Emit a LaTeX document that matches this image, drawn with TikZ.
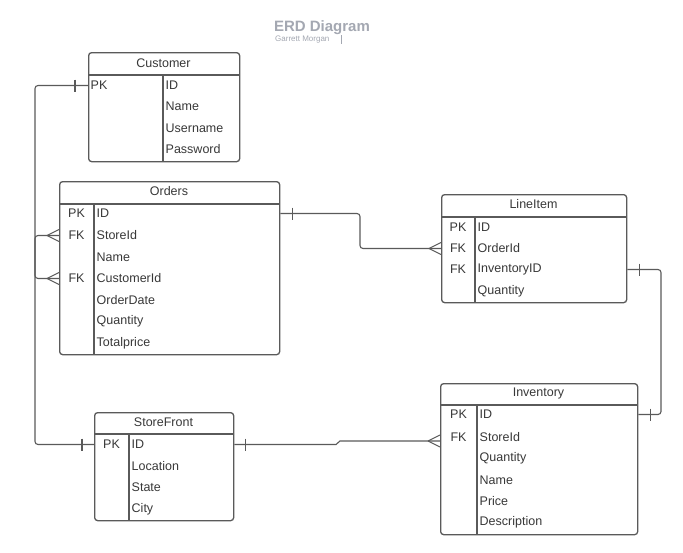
\documentclass[tikz,border=0pt]{standalone}
\usepackage{fontspec}
\setmainfont{Liberation Sans}
\usetikzlibrary{calc}
\definecolor{lc}{HTML}{5A5A5A}
\definecolor{tc}{HTML}{383838}
\definecolor{ttl}{HTML}{A4A8B2}
\tikzset{
  box/.style={draw=lc, line width=1.3pt, rounded corners=3pt, inner sep=0pt, anchor=north west},
  sep/.style={draw=lc, line width=1.3pt},
  conn/.style={draw=lc, line width=1.1pt, rounded corners=3pt},
  hdr/.style={font=\fontsize{12.5}{14}\selectfont, text=tc, inner sep=0pt},
  fld/.style={font=\fontsize{12.5}{14}\selectfont, text=tc, inner sep=0pt, anchor=west},
  key/.style={font=\fontsize{12.5}{14}\selectfont, text=tc, inner sep=0pt},
  crowfoot/.pic={\draw[draw=lc, line width=1.1pt] (-12,0) -- (0,-6) (-12,0) -- (0,6);},
  onebar/.pic={\draw[draw=lc, line width=1.1pt] (0,-6) -- (0,6);}
}
\begin{document}
\begin{tikzpicture}[x=1pt,y=-1pt]
\useasboundingbox[fill=white] (0,0) rectangle (683,552);
% title
\node[font=\bfseries\fontsize{15}{17}\selectfont, text=ttl, inner sep=0pt] (title) at (322,27.5) {ERD Diagram};
\node[font=\fontsize{8}{9}\selectfont, text=ttl, inner sep=0pt, anchor=west] (author) at (275,39.5) {Garrett Morgan};
\draw[ttl, line width=0.5pt] (341,35) -- (341,44);

% Customer
\node[box, minimum width=151pt, minimum height=109pt] (cust) at (88,52) {};
\draw[sep] (88,75) -- (239,75);
\draw[sep] (163,75) -- (163,161);
\node[hdr] (custT) at (163.5,63) {Customer};
\node[fld] (custPK) at (90.5,85.5) {PK};
\node[fld] (custID) at (165.5,85.5) {ID};
\node[fld] (custName) at (165.5,106.5) {Name};
\node[fld] (custUser) at (165.5,128.5) {Username};
\node[fld] (custPass) at (165.5,149.5) {Password};

% Orders
\node[box, minimum width=220pt, minimum height=173pt] (ord) at (59,181) {};
\draw[sep] (59,204) -- (279,204);
\draw[sep] (94,204) -- (94,354);
\node[hdr] (ordT) at (169,191.5) {Orders};
\node[key] (ordPK) at (76.5,213.5) {PK};
\node[key] (ordFK1) at (76.5,235.5) {FK};
\node[key] (ordFK2) at (76.5,278.5) {FK};
\node[fld] (ordID) at (96.5,213.5) {ID};
\node[fld] (ordStore) at (96.5,235.5) {StoreId};
\node[fld] (ordName) at (96.5,257.5) {Name};
\node[fld] (ordCust) at (96.5,278.5) {CustomerId};
\node[fld] (ordDate) at (96.5,300.5) {OrderDate};
\node[fld] (ordQty) at (96.5,321.5) {Quantity};
\node[fld] (ordTot) at (96.5,343.5) {Totalprice};

% LineItem
\node[box, minimum width=185pt, minimum height=108pt] (li) at (441,194) {};
\draw[sep] (441,217) -- (626,217);
\draw[sep] (475,217) -- (475,302);
\node[hdr] (liT) at (533.5,204.5) {LineItem};
\node[key] (liPK) at (458,227.5) {PK};
\node[key] (liFK1) at (458,248.5) {FK};
\node[key] (liFK2) at (458,269.5) {FK};
\node[fld] (liID) at (477.5,227.5) {ID};
\node[fld] (liOrd) at (477.5,248.5) {OrderId};
\node[fld] (liInv) at (477.5,269.5) {InventoryID};
\node[fld] (liQty) at (477.5,291.5) {Quantity};

% Inventory
\node[box, minimum width=197pt, minimum height=151pt] (inv) at (440,383) {};
\draw[sep] (440,405) -- (637,405);
\draw[sep] (477,405) -- (477,534);
\node[hdr] (invT) at (538.5,393.5) {Inventory};
\node[key] (invPK) at (458.5,414.5) {PK};
\node[key] (invFK) at (458.5,437.5) {FK};
\node[fld] (invID) at (479.5,414.5) {ID};
\node[fld] (invStore) at (479.5,437.5) {StoreId};
\node[fld] (invQty) at (479.5,458.5) {Quantity};
\node[fld] (invName) at (479.5,480.5) {Name};
\node[fld] (invPrice) at (479.5,501.5) {Price};
\node[fld] (invDesc) at (479.5,522.5) {Description};

% StoreFront
\node[box, minimum width=139pt, minimum height=108pt] (sf) at (94,412) {};
\draw[sep] (94,434) -- (233,434);
\draw[sep] (129,434) -- (129,520);
\node[hdr] (sfT) at (163.5,422.5) {StoreFront};
\node[key] (sfPK) at (111.5,444.5) {PK};
\node[fld] (sfID) at (131.5,444.5) {ID};
\node[fld] (sfLoc) at (131.5,466.5) {Location};
\node[fld] (sfState) at (131.5,487.5) {State};
\node[fld] (sfCity) at (131.5,509.5) {City};

% connectors
\coordinate (leftrail) at (35,0);
% Customer -> Orders.CustomerId
\draw[conn] (cust.west |- custPK) -- (leftrail |- custPK) -- (leftrail |- ordCust) -- (ord.west |- ordCust);
\pic at ($(cust.west |- custPK)+(-13,0)$) {onebar};
\pic at (ord.west |- ordCust) {crowfoot};
% StoreFront -> Orders.StoreId
\draw[conn] (sf.west |- sfPK) -- (leftrail |- sfPK) -- (leftrail |- ordStore) -- (ord.west |- ordStore);
\pic at ($(sf.west |- sfPK)+(-12,0)$) {onebar};
\pic at (ord.west |- ordStore) {crowfoot};
% Orders.ID -> LineItem.OrderId
\coordinate (midA) at (360,0);
\draw[conn] (ord.east |- ordID) -- (midA |- ordID) -- (midA |- liOrd) -- (li.west |- liOrd);
\pic at ($(ord.east |- ordID)+(12,0)$) {onebar};
\pic at (li.west |- liOrd) {crowfoot};
% LineItem.InventoryID -> Inventory.ID
\coordinate (rightrail) at (661,0);
\draw[conn] (li.east |- liInv) -- (rightrail |- liInv) -- (rightrail |- invID) -- (inv.east |- invID);
\pic at ($(li.east |- liInv)+(12,0)$) {onebar};
\pic at ($(inv.east |- invID)+(12,0)$) {onebar};
% StoreFront.ID -> Inventory.StoreId
\coordinate (stepA) at (336,444.5);
\coordinate (stepB) at (340,441);
\draw[draw=lc, line width=1.1pt] (sf.east |- sfID) -- (stepA) -- (stepB) -- (inv.west |- stepB);
\pic at ($(sf.east |- sfID)+(11,0)$) {onebar};
\pic at (inv.west |- stepB) {crowfoot};
\end{tikzpicture}
\end{document}
